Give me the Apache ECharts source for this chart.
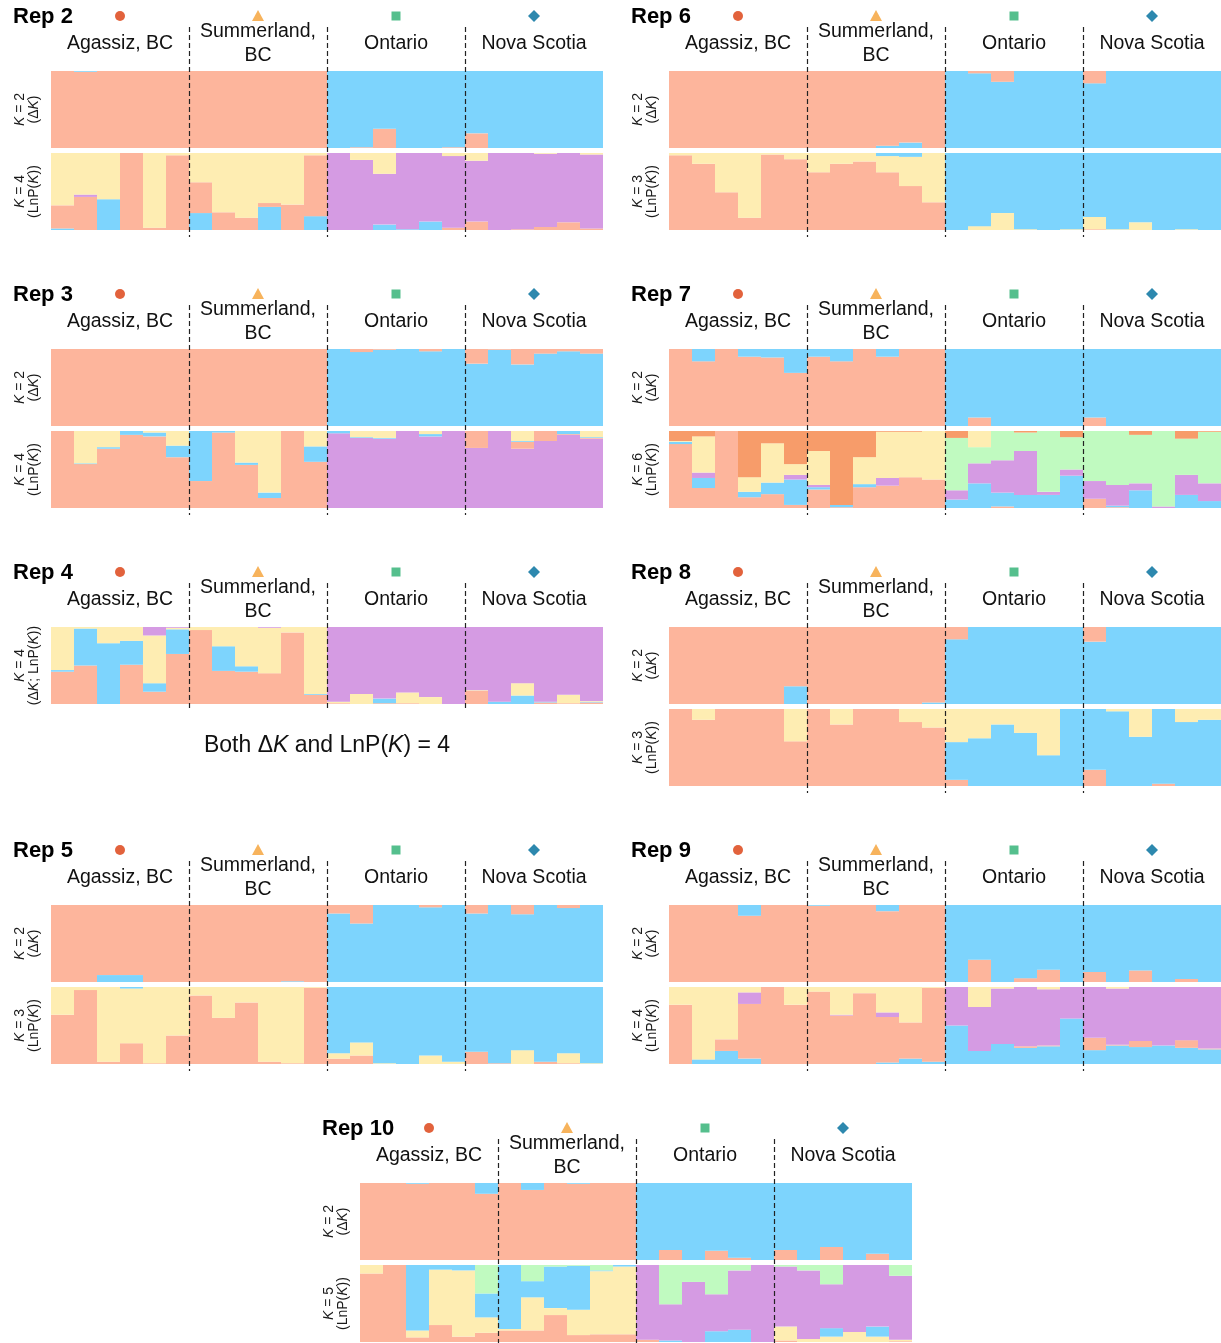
<!DOCTYPE html>
<html>
<head>
<meta charset="utf-8">
<script src="https://cdn.jsdelivr.net/npm/echarts@6/dist/echarts.min.js"></script>
<style>
html,body{margin:0;padding:0;background:#fff;}
#chart{width:1221px;height:1343px;}
</style>
</head>
<body>
<div id="chart"></div>
<script>
// ---------- categories / labels ----------
const categories = ['A1','A2','A3','A4','A5','A6','S1','S2','S3','S4','S5','S6','O1','O2','O3','O4','O5','O6','N1','N2','N3','N4','N5','N6'];
const populations = ['Agassiz, BC','Summerland,\nBC','Ontario','Nova Scotia'];
const repTitles = ['Rep 2','Rep 6','Rep 3','Rep 7','Rep 4','Rep 8','Rep 5','Rep 9','Rep 10'];

// ---------- Rep 2 ----------
const rep2_k2_salmon = [1,0.99,1,1,1,1, 1,1,1,1,1,1, 0,0.01,0.25,0,0,0.01, 0.19,0,0,0,0,0];
const rep2_k2_blue   = [0,0.01,0,0,0,0, 0,0,0,0,0,0, 1,0.99,0.75,1,1,0.99, 0.81,1,1,1,1,1];
const rep2_k4_blue   = [0.02,0,0.40,0,0,0, 0.22,0,0,0.30,0,0.18, 0,0,0.07,0.01,0.11,0, 0,0,0,0,0,0];
const rep2_k4_salmon = [0.30,0.43,0,1,0.03,0.97, 0.40,0.23,0.16,0.05,0.33,0.79, 0,0,0,0,0,0.03, 0.11,0,0.01,0.04,0.10,0.02];
const rep2_k4_purple = [0,0.03,0,0,0,0, 0,0,0,0,0,0, 1,0.91,0.66,0.99,0.89,0.93, 0.79,1,0.99,0.95,0.90,0.96];
const rep2_k4_yellow = [0.68,0.54,0.60,0,0.97,0.03, 0.38,0.77,0.84,0.65,0.67,0.03, 0,0.09,0.27,0,0,0.04, 0.10,0,0,0.01,0,0.02];

// ---------- Rep 6 ----------
const rep6_k2_blue   = [0,0,0,0,0,0, 0,0,0,0.03,0.07,0, 1,0.97,0.86,1,1,1, 0.84,1,1,1,1,1];
const rep6_k2_salmon = [1,1,1,1,1,1, 1,1,1,0.97,0.93,1, 0,0.03,0.14,0,0,0, 0.16,0,0,0,0,0];
const rep6_k3_salmon = [0.97,0.86,0.49,0.16,0.98,0.92, 0.75,0.86,0.89,0.75,0.57,0.36, 0,0,0,0,0,0, 0.01,0,0,0,0,0];
const rep6_k3_yellow = [0.03,0.14,0.51,0.84,0.02,0.08, 0.25,0.14,0.11,0.21,0.38,0.64, 0,0.05,0.22,0.01,0,0.01, 0.16,0.01,0.10,0,0.01,0];
const rep6_k3_blue   = [0,0,0,0,0,0, 0,0,0,0.04,0.05,0, 1,0.95,0.78,0.99,1,0.99, 0.83,0.99,0.90,1,0.99,1];

// ---------- Rep 3 ----------
const rep3_k2_blue   = [0,0,0,0,0,0, 0,0,0,0,0,0, 1,0.96,0.99,1,0.97,1, 0.81,0.99,0.80,0.94,0.97,0.94];
const rep3_k2_salmon = [1,1,1,1,1,1, 1,1,1,1,1,1, 0,0.04,0.01,0,0.03,0, 0.19,0.01,0.20,0.06,0.03,0.06];
const rep3_k4_purple = [0,0,0,0,0,0, 0,0,0,0,0,0, 0.97,0.91,0.90,1,0.93,1, 0.78,1,0.77,0.87,0.95,0.90];
const rep3_k4_salmon = [1,0.57,0.77,0.95,0.93,0.66, 0.35,0.98,0.56,0.13,1,0.60, 0,0,0,0,0,0, 0.22,0,0.09,0.13,0.01,0.01];
const rep3_k4_blue   = [0,0.01,0.02,0.05,0.05,0.15, 0.65,0.02,0.03,0.07,0,0.20, 0.03,0.01,0.01,0,0.03,0, 0,0,0.01,0,0.04,0.01];
const rep3_k4_yellow = [0,0.42,0.21,0,0.02,0.19, 0,0,0.41,0.80,0,0.20, 0,0.08,0.09,0,0.04,0, 0,0,0.13,0,0,0.08];

// ---------- Rep 7 ----------
const rep7_k2_salmon = [1,0.84,1,0.90,0.89,0.69, 0.90,0.84,1,0.90,1,1, 0,0.11,0,0,0,0, 0.11,0,0,0,0,0];
const rep7_k2_blue   = [0,0.16,0,0.10,0.11,0.31, 0.10,0.16,0,0.10,0,0, 1,0.89,1,1,1,1, 0.89,1,1,1,1,1];
const rep7_k6_salmon = [0.83,0.26,1,0.14,0.18,0.04, 0.24,0.01,0.27,0.29,0.40,0.37, 0,0,0.02,0,0,0, 0.12,0.01,0,0,0,0];
const rep7_k6_blue   = [0.03,0.13,0,0.07,0.15,0.33, 0.03,0.03,0.04,0,0,0, 0.11,0.32,0.18,0.17,0.17,0.42, 0,0.02,0.23,0,0.17,0.09];
const rep7_k6_purple = [0,0.07,0,0,0,0.06, 0.03,0,0,0.10,0,0, 0.12,0.26,0.42,0.57,0.04,0.08, 0.23,0.27,0.09,0.02,0.26,0.23];
const rep7_k6_green  = [0,0,0,0,0,0, 0,0,0,0,0,0, 0.68,0.21,0.38,0.24,0.79,0.42, 0.65,0.70,0.63,0.98,0.47,0.67];
const rep7_k6_yellow = [0.01,0.47,0,0.19,0.51,0.14, 0.44,0,0.35,0.60,0.59,0.63, 0,0.21,0,0,0,0, 0,0,0,0,0,0];
const rep7_k6_orange = [0.13,0.07,0,0.60,0.16,0.43, 0.26,0.96,0.34,0.01,0.01,0, 0.09,0,0,0.02,0,0.08, 0,0,0.05,0,0.10,0.01];

// ---------- Rep 4 ----------
const rep4_k4_salmon = [0.42,0.50,0,0.51,0.16,0.65, 0.96,0.43,0.42,0.40,0.93,0.12, 0.01,0,0.01,0.01,0,0, 0.17,0,0,0.02,0.01,0.02];
const rep4_k4_blue   = [0.02,0.48,0.79,0.31,0.11,0.32, 0,0.32,0.07,0,0,0.01, 0,0,0.06,0,0,0, 0,0.03,0.11,0.01,0,0.01];
const rep4_k4_yellow = [0.56,0.02,0.21,0.18,0.62,0.02, 0.04,0.25,0.51,0.59,0.07,0.87, 0.02,0.13,0,0.14,0.09,0, 0.01,0,0.16,0,0.11,0.01];
const rep4_k4_purple = [0,0,0,0,0.11,0.01, 0,0,0,0.01,0,0, 0.97,0.87,0.93,0.85,0.91,1, 0.82,0.97,0.73,0.97,0.88,0.96];

// ---------- Rep 8 ----------
const rep8_k2_blue   = [0,0,0,0,0,0.23, 0,0,0,0,0,0.02, 0.84,1,1,1,1,1, 0.81,1,1,1,1,1];
const rep8_k2_salmon = [1,1,1,1,1,0.77, 1,1,1,1,1,0.98, 0.16,0,0,0,0,0, 0.19,0,0,0,0,0];
const rep8_k3_salmon = [1,0.86,1,1,1,0.58, 1,0.80,1,1,0.83,0.76, 0.08,0,0,0,0,0, 0.21,0,0,0.03,0,0];
const rep8_k3_blue   = [0,0,0,0,0,0, 0,0,0,0,0,0, 0.49,0.62,0.80,0.69,0.40,1, 0.79,0.97,0.64,0.97,0.83,0.86];
const rep8_k3_yellow = [0,0.14,0,0,0,0.42, 0,0.20,0,0,0.17,0.24, 0.43,0.38,0.20,0.31,0.60,0, 0,0.03,0.36,0,0.17,0.14];

// ---------- Rep 5 ----------
const rep5_k2_blue   = [0,0,0.09,0.09,0,0, 0,0,0,0,0.01,0, 0.89,0.76,1,1,0.97,1, 0.89,1,0.88,1,0.96,1];
const rep5_k2_salmon = [1,1,0.91,0.91,1,1, 1,1,1,1,0.99,1, 0.11,0.24,0,0,0.03,0, 0.11,0,0.12,0,0.04,0];
const rep5_k3_salmon = [0.64,0.96,0.03,0.27,0.01,0.37, 0.89,0.60,0.80,0.03,0.01,0.99, 0.07,0.11,0,0,0,0, 0.16,0.01,0,0.03,0.01,0];
const rep5_k3_yellow = [0.36,0.04,0.97,0.71,0.99,0.63, 0.11,0.40,0.20,0.97,0.99,0.01, 0.07,0.17,0.01,0,0.11,0.03, 0,0,0.18,0,0.13,0.01];
const rep5_k3_blue   = [0,0,0,0.02,0,0, 0,0,0,0,0,0, 0.86,0.72,0.99,1,0.89,0.97, 0.84,0.99,0.82,0.97,0.86,0.99];

// ---------- Rep 9 ----------
const rep9_k2_salmon = [1,1,1,0.86,1,1, 0.99,1,1,0.92,1,1, 0,0.29,0,0.05,0.16,0, 0.13,0,0.15,0,0.04,0];
const rep9_k2_blue   = [0,0,0,0.14,0,0, 0.01,0,0,0.08,0,0, 1,0.71,1,0.95,0.84,1, 0.87,1,0.85,1,0.96,1];
const rep9_k4_blue   = [0,0.06,0.17,0.07,0,0, 0,0,0,0.02,0.07,0.03, 0.50,0.17,0.26,0.21,0.23,0.59, 0.18,0.24,0.22,0.24,0.21,0.19];
const rep9_k4_salmon = [0.77,0,0.15,0.71,1,0.77, 0.94,0.63,0.92,0.59,0.47,0.96, 0,0,0,0.02,0.01,0, 0.16,0.01,0.08,0,0.10,0.01];
const rep9_k4_purple = [0,0,0,0.15,0,0, 0,0.01,0,0.06,0,0, 0.50,0.57,0.72,0.77,0.73,0.41, 0.66,0.73,0.70,0.76,0.69,0.80];
const rep9_k4_yellow = [0.23,0.94,0.68,0.07,0,0.23, 0.06,0.36,0.08,0.33,0.46,0.01, 0,0.26,0.02,0,0.03,0, 0,0.02,0,0,0,0];

// ---------- Rep 10 ----------
const rep10_k2_salmon = [1,1,0.99,1,1,0.86, 1,0.91,1,0.99,1,1, 0,0.13,0,0.12,0.03,0, 0.13,0,0.17,0,0.08,0];
const rep10_k2_blue   = [0,0,0.01,0,0,0.14, 0,0.09,0,0.01,0,0, 1,0.87,1,0.88,0.97,1, 0.87,1,0.83,1,0.92,1];
const rep10_k5_salmon = [0.89,1,0.06,0.22,0.07,0.12, 0.15,0.15,0.35,0.09,0.10,0.10, 0.03,0,0,0,0,0, 0.02,0,0,0,0,0.01];
const rep10_k5_yellow = [0.11,0,0.09,0.72,0.86,0.20, 0.02,0.43,0.09,0.33,0.82,0.88, 0,0,0,0,0,0, 0.18,0.04,0.07,0.13,0.07,0.02];
const rep10_k5_blue   = [0,0,0.85,0.06,0.07,0.31, 0.83,0.21,0.54,0.57,0.01,0.02, 0,0.02,0,0.14,0.16,0, 0,0,0.11,0,0.13,0];
const rep10_k5_purple = [0,0,0,0,0,0, 0,0,0,0,0,0, 0.97,0.47,0.78,0.48,0.77,1, 0.78,0.89,0.57,0.87,0.80,0.83];
const rep10_k5_green  = [0,0,0,0,0,0.37, 0,0.21,0.02,0.01,0.07,0, 0,0.51,0.22,0.38,0.07,0, 0.02,0.07,0.25,0,0,0.14];

// ---------- styling ----------
const FONT = "'Liberation Sans', Arial, Helvetica, sans-serif";
const COL = {
  salmon:'#FDB59C', blue:'#7DD4FD', yellow:'#FEEDB2', purple:'#D59BE3',
  green:'#C0FAC0', orange:'#F79C6A'
};
const MARK = ['#E2623C','#F7B35C','#55BF8D','#2D88AE'];
const LBL_K2D = '{i|K} = 2\n(Δ{i|K})';
const lblLnP = k => '{i|K} = ' + k + '\n(LnP({i|K}))';

// layout of each replicate block (offsets of the block, px)
const reps = [
  {title:repTitles[0], ox:0,   oy:0,    panels:[
    {label:LBL_K2D, stack:[['salmon',rep2_k2_salmon],['blue',rep2_k2_blue]]},
    {label:lblLnP(4), stack:[['blue',rep2_k4_blue],['salmon',rep2_k4_salmon],['purple',rep2_k4_purple],['yellow',rep2_k4_yellow]]}]},
  {title:repTitles[1], ox:618, oy:0,    panels:[
    {label:LBL_K2D, stack:[['blue',rep6_k2_blue],['salmon',rep6_k2_salmon]]},
    {label:lblLnP(3), stack:[['salmon',rep6_k3_salmon],['yellow',rep6_k3_yellow],['blue',rep6_k3_blue]]}]},
  {title:repTitles[2], ox:0,   oy:278,  panels:[
    {label:LBL_K2D, stack:[['blue',rep3_k2_blue],['salmon',rep3_k2_salmon]]},
    {label:lblLnP(4), stack:[['purple',rep3_k4_purple],['salmon',rep3_k4_salmon],['blue',rep3_k4_blue],['yellow',rep3_k4_yellow]]}]},
  {title:repTitles[3], ox:618, oy:278,  panels:[
    {label:LBL_K2D, stack:[['salmon',rep7_k2_salmon],['blue',rep7_k2_blue]]},
    {label:lblLnP(6), stack:[['salmon',rep7_k6_salmon],['blue',rep7_k6_blue],['purple',rep7_k6_purple],['green',rep7_k6_green],['yellow',rep7_k6_yellow],['orange',rep7_k6_orange]]}]},
  {title:repTitles[4], ox:0,   oy:556,  note:true, panels:[
    {label:'{i|K} = 4\n(Δ{i|K}; LnP({i|K}))', stack:[['salmon',rep4_k4_salmon],['blue',rep4_k4_blue],['yellow',rep4_k4_yellow],['purple',rep4_k4_purple]]}]},
  {title:repTitles[5], ox:618, oy:556,  panels:[
    {label:LBL_K2D, stack:[['blue',rep8_k2_blue],['salmon',rep8_k2_salmon]]},
    {label:lblLnP(3), stack:[['salmon',rep8_k3_salmon],['blue',rep8_k3_blue],['yellow',rep8_k3_yellow]]}]},
  {title:repTitles[6], ox:0,   oy:834,  panels:[
    {label:LBL_K2D, stack:[['blue',rep5_k2_blue],['salmon',rep5_k2_salmon]]},
    {label:lblLnP(3), stack:[['salmon',rep5_k3_salmon],['yellow',rep5_k3_yellow],['blue',rep5_k3_blue]]}]},
  {title:repTitles[7], ox:618, oy:834,  panels:[
    {label:LBL_K2D, stack:[['salmon',rep9_k2_salmon],['blue',rep9_k2_blue]]},
    {label:lblLnP(4), stack:[['blue',rep9_k4_blue],['salmon',rep9_k4_salmon],['purple',rep9_k4_purple],['yellow',rep9_k4_yellow]]}]},
  {title:repTitles[8], ox:309, oy:1112, panels:[
    {label:LBL_K2D, stack:[['salmon',rep10_k2_salmon],['blue',rep10_k2_blue]]},
    {label:lblLnP(5), stack:[['salmon',rep10_k5_salmon],['yellow',rep10_k5_yellow],['blue',rep10_k5_blue],['purple',rep10_k5_purple],['green',rep10_k5_green]]}]}
];

const PLOT_LEFT = 51, PLOT_W = 552, PANEL_TOP = [71, 153], PANEL_H = 77;

const grid = [], xAxis = [], yAxis = [], series = [];
reps.forEach(rep => {
  rep.grids = [];
  rep.panels.forEach((p, pi) => {
    const gi = grid.length;
    rep.grids.push(gi);
    grid.push({left: rep.ox + PLOT_LEFT, top: rep.oy + PANEL_TOP[pi], width: PLOT_W, height: PANEL_H, containLabel:false});
    xAxis.push({type:'category', gridIndex:gi, data:categories, show:false, boundaryGap:true});
    yAxis.push({type:'value', gridIndex:gi, min:0, max:1,
      axisLine:{show:false}, axisTick:{show:false}, axisLabel:{show:false}, splitLine:{show:false},
      name:p.label, nameLocation:'middle', nameRotate:90, nameGap:24,
      nameTextStyle:{fontFamily:FONT, fontSize:14, lineHeight:14, color:'#1a1a1a', align:'center', verticalAlign:'middle',
        rich:{i:{fontStyle:'italic', fontFamily:FONT, fontSize:14, lineHeight:14, color:'#1a1a1a'}}}
    });
    p.stack.forEach(([ck, arr]) => {
      series.push({type:'bar', xAxisIndex:gi, yAxisIndex:gi, stack:'st'+gi, data:arr,
        barWidth:'100%', itemStyle:{color:COL[ck]}, silent:true, animation:false,
        emphasis:{disabled:true}});
    });
  });
});

const chart = echarts.init(document.getElementById('chart'), null, {renderer:'canvas'});
chart.setOption({backgroundColor:'#fff', animation:false, grid, xAxis, yAxis, series});

// decorations positioned from the axes
const graphic = [];
reps.forEach(rep => {
  const gi = rep.grids[0];
  const px = i => chart.convertToPixel({xAxisIndex: gi}, i);
  const lastTop = rep.oy + PANEL_TOP[rep.panels.length - 1];
  const yTop = rep.oy + 27, yBot = lastTop + PANEL_H + 7;
  graphic.push({type:'text', x: rep.ox + 13, y: rep.oy + 17, z:10,
    style:{text:rep.title, font:'bold 22px ' + FONT, fill:'#000', align:'left', verticalAlign:'middle'}});
  [6, 12, 18].forEach(b => {
    const x = Math.round((px(b - 1) + px(b)) / 2) + 0.5;
    graphic.push({type:'line', z:10, shape:{x1:x, y1:yTop, x2:x, y2:yBot},
      style:{stroke:'#222', lineWidth:1.2, lineDash:[5,3]}});
  });
  populations.forEach((name, k) => {
    const cx = (px(k * 6 + 2) + px(k * 6 + 3)) / 2;
    graphic.push({type:'text', x:cx, y:rep.oy + 44, z:10,
      style:{text:name, font:'19.5px ' + FONT, fill:'#111', align:'center', verticalAlign:'middle', lineHeight:24}});
    const cy = rep.oy + 16;
    if (k === 0) graphic.push({type:'circle', z:10, shape:{cx, cy, r:5}, style:{fill:MARK[0]}});
    if (k === 1) graphic.push({type:'polygon', z:10, shape:{points:[[cx, cy - 6],[cx + 6, cy + 5],[cx - 6, cy + 5]]}, style:{fill:MARK[1]}});
    if (k === 2) graphic.push({type:'rect', z:10, shape:{x:cx - 4.5, y:cy - 4.5, width:9, height:9}, style:{fill:MARK[2]}});
    if (k === 3) graphic.push({type:'polygon', z:10, shape:{points:[[cx, cy - 6],[cx + 6, cy],[cx, cy + 6],[cx - 6, cy]]}, style:{fill:MARK[3]}});
  });
  if (rep.note) {
    const cx = (px(11) + px(12)) / 2;
    graphic.push({type:'text', x:cx, y: rep.oy + 190, z:10,
      style:{text:'{n|Both Δ}{i|K}{n| and LnP(}{i|K}{n|) = 4}', align:'center', verticalAlign:'middle',
        rich:{n:{font:'23px ' + FONT, fill:'#111'}, i:{font:'italic 23px ' + FONT, fill:'#111'}}}});
  }
});
chart.setOption({graphic});
</script>
</body>
</html>
